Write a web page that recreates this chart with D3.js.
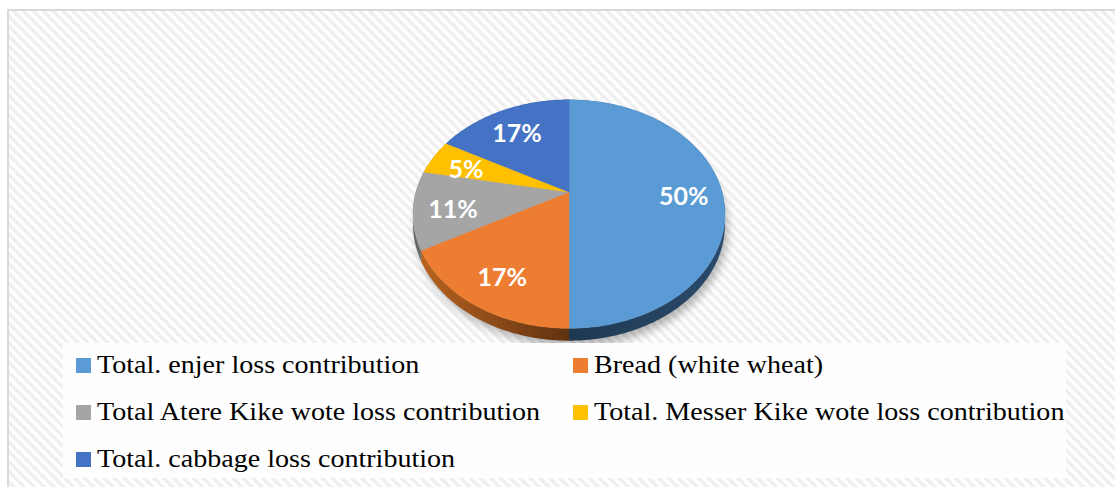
<!DOCTYPE html>
<meta charset="utf-8">
<html>
<head>
<style>
  body { margin: 0; background: #fff; }
  svg { display: block; }
</style>
</head>
<body>
<script src="https://d3js.org/d3.v7.js"></script>
<svg width="1115" height="487"></svg>
<script>
// data
var categories = ["Total. enjer loss contribution", "Bread (white wheat)",
    "Total Atere Kike wote loss contribution", "Total. Messer Kike wote loss contribution",
    "Total. cabbage loss contribution"];
var values = [50, 17, 11, 5, 17];
var labels = ["50%", "17%", "11%", "5%", "17%"];
var colors = ["#5b9bd5", "#ed7d31", "#a5a5a5", "#ffc000", "#4472c4"];
var sideColors = [["#2b4b6c", "#1f3850"], ["#b8621f", "#5f3210"], ["#7a7a7a", "#5c5c5c"], ["#c09000", "#8a6800"], ["#2e4f8a", "#243f6e"]];

var svg = d3.select("svg");
var W = 1115, H = 487;

var defs = svg.append("defs");

// diagonal hatch background
var pat = defs.append("pattern")
    .attr("id", "hatch")
    .attr("patternUnits", "userSpaceOnUse")
    .attr("width", 7).attr("height", 7)
    .attr("patternTransform", "rotate(-45)");
pat.append("rect").attr("width", 7).attr("height", 7).attr("fill", "#ffffff");
pat.append("rect").attr("width", 3.5).attr("height", 7).attr("fill", "#efefef");

var blur = defs.append("filter").attr("id", "shadow")
    .attr("x", "-20%").attr("y", "-20%").attr("width", "140%").attr("height", "140%");
blur.append("feGaussianBlur").attr("stdDeviation", 4);

svg.append("rect").attr("width", W).attr("height", H).attr("fill", "#fff");
svg.append("rect")
    .attr("x", 8).attr("y", 10)
    .attr("width", W + 20).attr("height", H + 20)
    .attr("fill", "url(#hatch)")
    .attr("stroke", "#d9d9d9")
    .attr("stroke-width", 2);

// perspective pie projection
var cx = 569, cy = 192, A = 153, B = 110, k = 0.193, depth = 10;
function proj(theta, r, d) {
    var u = r * Math.sin(theta), v = -r * Math.cos(theta);
    var w = 1 - k * v;
    return [cx + A * u / w, cy + B * v / w + (d || 0) / w];
}
function rim(a0, a1, d) {
    var pts = [], n = Math.max(2, Math.ceil((a1 - a0) / 0.01));
    for (var i = 0; i <= n; i++) pts.push(proj(a0 + (a1 - a0) * i / n, 1, d));
    return pts;
}
var line = d3.line();

var pie = d3.pie().sort(null).value(function (d) { return d; });
var arcs = pie(values);

var g = svg.append("g");

// soft shadow under the pie
g.append("path")
    .attr("d", line(rim(0, 2 * Math.PI, depth + 3)) + "Z")
    .attr("transform", "translate(3,2)")
    .attr("fill", "#000")
    .attr("opacity", 0.28)
    .attr("filter", "url(#shadow)");

// side walls
arcs.forEach(function (a, i) {
    var top = rim(a.startAngle, a.endAngle, 0);
    var bot = rim(a.startAngle, a.endAngle, depth).reverse();
    var xs = top.map(function (p) { return p[0]; });
    var gid = "side" + i;
    var lg = defs.append("linearGradient").attr("id", gid)
        .attr("gradientUnits", "userSpaceOnUse")
        .attr("x1", d3.min(xs)).attr("x2", d3.max(xs)).attr("y1", 0).attr("y2", 0);
    var c = sideColors[i];
    // orange darkens towards the middle, blue keeps its tone
    lg.append("stop").attr("offset", 0).attr("stop-color", i === 1 ? c[0] : c[1]);
    lg.append("stop").attr("offset", 1).attr("stop-color", i === 1 ? c[1] : c[0]);
    g.append("path")
        .attr("d", line(top.concat(bot)) + "Z")
        .attr("fill", "url(#" + gid + ")");
});

// top faces
arcs.forEach(function (a, i) {
    var pts = [proj(0, 0)].concat(rim(a.startAngle, a.endAngle, 0));
    g.append("path")
        .attr("d", line(pts) + "Z")
        .attr("fill", colors[i])
        .attr("stroke", colors[i])
        .attr("stroke-width", 0.5);
});

// data labels
arcs.forEach(function (a, i) {
    var mid = (a.startAngle + a.endAngle) / 2;
    var p = proj(mid, 0.75);
    g.append("text")
        .attr("x", p[0]).attr("y", p[1] + 3)
        .attr("text-anchor", "middle")
        .attr("dominant-baseline", "central")
        .attr("font-family", "Lato, 'Open Sans', sans-serif")
        .attr("font-weight", "bold")
        .attr("font-size", "25px")
        .attr("fill", "#fff")
        .text(labels[i]);
});

// legend
svg.append("rect")
    .attr("x", 63).attr("y", 343)
    .attr("width", 1003).attr("height", 135)
    .attr("fill", "#fefefe");

var colX = d3.scaleOrdinal().domain([0, 1]).range([76, 573]);
var rowY = d3.scaleLinear().domain([0, 1]).range([373, 420]);

var leg = svg.append("g").selectAll("g")
    .data(categories)
    .enter().append("g")
    .attr("transform", function (d, i) {
        return "translate(" + colX(i % 2) + "," + rowY(Math.floor(i / 2)) + ")";
    });
leg.append("rect")
    .attr("x", 0).attr("y", -15)
    .attr("width", 15).attr("height", 15)
    .attr("fill", function (d, i) { return colors[i]; });
leg.append("text")
    .attr("transform", "translate(21,0) scale(1.08,1)")
    .attr("font-family", "'Liberation Serif', 'Times New Roman', serif")
    .attr("font-size", "26px")
    .attr("fill", "#000")
    .text(function (d) { return d; });
</script>
</body>
</html>
